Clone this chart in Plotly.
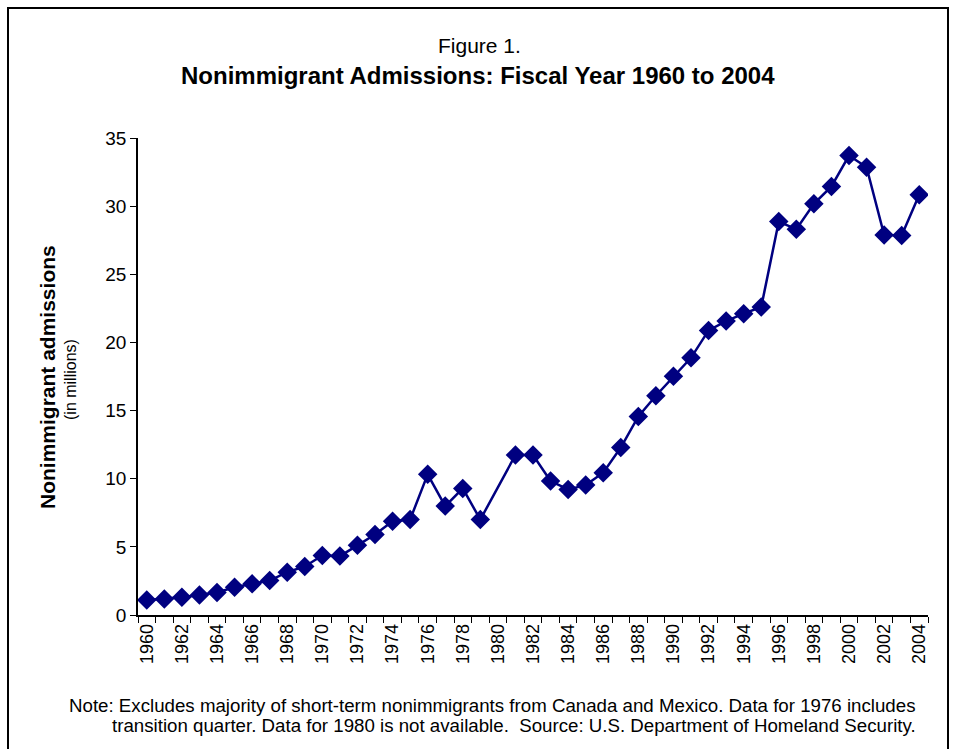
import plotly.graph_objects as go

years = list(range(1960, 2005))
admissions = [1.10, 1.18, 1.30, 1.47, 1.65, 2.04, 2.29, 2.53, 3.14, 3.56,
              4.37, 4.32, 5.11, 5.90, 6.88, 7.00, 10.32, 7.99, 9.29, 7.00,
              None, 11.74, 11.74, 9.83, 9.21, 9.53, 10.44, 12.29, 14.57, 16.09,
              17.52, 18.87, 20.88, 21.57, 22.11, 22.60, 28.87, 28.30, 30.17, 31.45,
              33.71, 32.85, 27.89, 27.84, 30.84]
tick_years = list(range(1960, 2005, 2))
y_ticks = [0, 5, 10, 15, 20, 25, 30, 35]

FONT = "Arial, 'Liberation Sans', sans-serif"
W, H = 954, 749
L, R, T, B = 138, 26, 138, 134
PW, PH = W - L - R, H - T - B

def px(x):
    return (x - L) / PW

def py(y):
    return (H - B - y) / PH

fig = go.Figure()
fig.add_trace(go.Scatter(
    x=years, y=admissions, mode="lines+markers", connectgaps=True,
    line=dict(color="#000080", width=2.5),
    marker=dict(symbol="diamond", size=15, color="#000080"),
    showlegend=False,
))

fig.update_layout(
    width=W, height=H,
    margin=dict(l=L, r=R, t=T, b=B),
    paper_bgcolor="white", plot_bgcolor="white",
    font=dict(family=FONT, color="black", size=18),
    xaxis=dict(
        range=[1959.5, 2004.5], tickvals=tick_years,
        ticktext=[str(y) for y in tick_years],
        tickangle=-90, ticks="", showgrid=False, zeroline=False,
        showline=True, linecolor="black", linewidth=1.5,
        tickfont=dict(size=18),
        minor=dict(tick0=1959.5, dtick=1, ticks="outside", ticklen=6,
                   tickcolor="black", tickwidth=1, showgrid=False),
    ),
    yaxis=dict(
        range=[0, 35], tickvals=y_ticks, ticks="outside", ticklen=6,
        tickcolor="black", showgrid=False, zeroline=False,
        showline=True, linecolor="black", linewidth=1.5,
        tickfont=dict(size=19),
    ),
    shapes=[dict(type="rect", xref="paper", yref="paper",
                 x0=px(8), x1=px(948), y0=py(765), y1=py(8),
                 line=dict(color="black", width=2), fillcolor="rgba(0,0,0,0)")],
    annotations=[
        dict(text="Figure 1.", x=px(479), y=py(45), xref="paper", yref="paper",
             showarrow=False, font=dict(size=21), xanchor="center", yanchor="middle"),
        dict(text="<b>Nonimmigrant Admissions: Fiscal Year 1960 to 2004</b>",
             x=px(478), y=py(75), xref="paper", yref="paper",
             showarrow=False, font=dict(size=24), xanchor="center", yanchor="middle"),
        dict(text="<b>Nonimmigrant admissions</b>", x=px(47), y=py(377),
             xref="paper", yref="paper", showarrow=False, textangle=-90,
             font=dict(size=21), xanchor="center", yanchor="middle"),
        dict(text="(in millions)", x=px(70), y=py(380),
             xref="paper", yref="paper", showarrow=False, textangle=-90,
             font=dict(size=16), xanchor="center", yanchor="middle"),
        dict(text="Note: Excludes majority of short-term nonimmigrants from Canada and Mexico. Data for 1976 includes",
             x=px(918), y=py(705), xref="paper", yref="paper", showarrow=False,
             xanchor="right", yanchor="middle", font=dict(size=18.7)),
        dict(text="transition quarter. Data for 1980 is not available.  Source: U.S. Department of Homeland Security.",
             x=px(918), y=py(725), xref="paper", yref="paper", showarrow=False,
             xanchor="right", yanchor="middle", font=dict(size=18.7)),
    ],
)

fig.write_html("out.html", post_script="document.body.style.margin='0';",
               config={"displayModeBar": False})
